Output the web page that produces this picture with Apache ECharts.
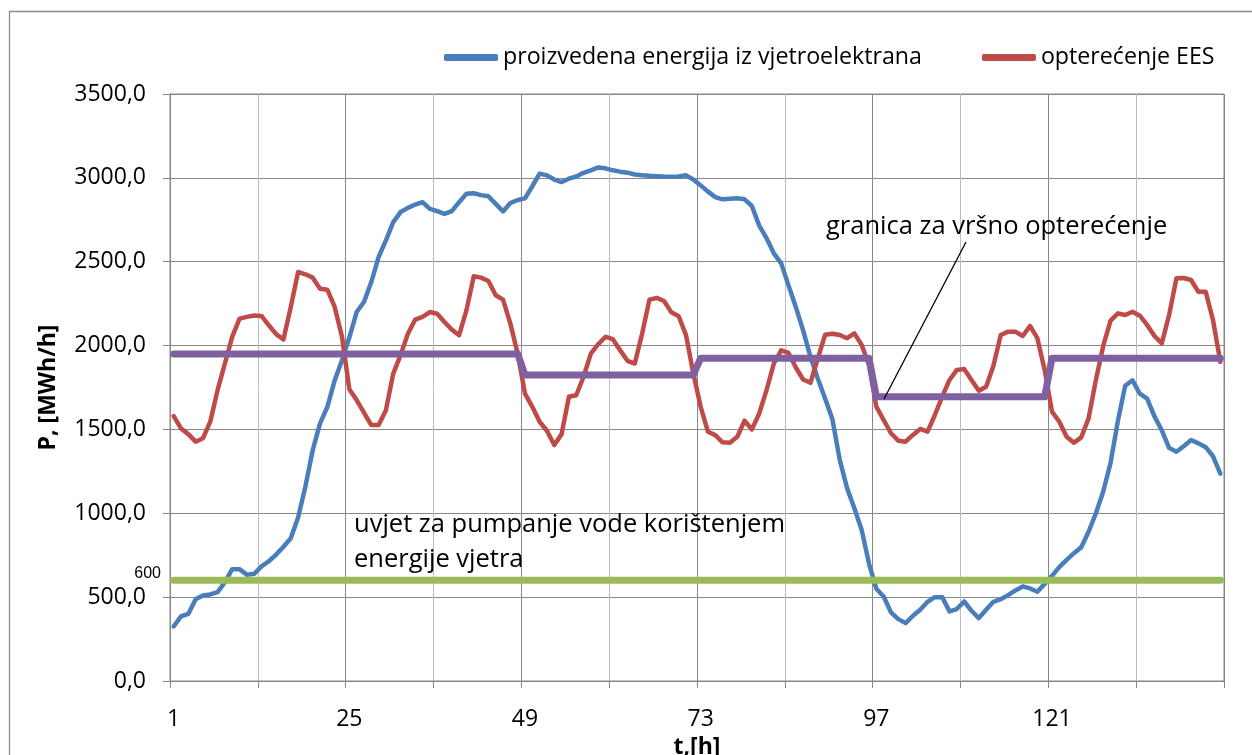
<!DOCTYPE html>
<html>
<head>
<meta charset="utf-8">
<script src="https://cdn.jsdelivr.net/npm/echarts@6/dist/echarts.min.js"></script>
<style>
  html, body { margin: 0; padding: 0; background: #fff; }
  #chart { width: 1252px; height: 755px; }
</style>
</head>
<body>
<div id="chart"></div>
<script>
// hours 1..144
const hours = Array.from({ length: 144 }, (_, i) => String(i + 1));

// proizvedena energija iz vjetroelektrana
const windEnergy = [
  325, 385, 400, 488, 510, 516, 530, 589, 667, 667, 633, 639,
  683, 714, 754, 800, 851, 975, 1160, 1377, 1536, 1635, 1792, 1913,
  2048, 2200, 2260, 2379, 2528, 2627, 2736, 2796, 2821, 2841, 2855, 2815,
  2802, 2785, 2802, 2855, 2905, 2908, 2897, 2890, 2845, 2800, 2850, 2868,
  2878, 2950, 3025, 3015, 2990, 2975, 2995, 3008, 3030, 3045, 3062, 3057,
  3045, 3037, 3031, 3020, 3015, 3012, 3010, 3008, 3007, 3008, 3015, 2990,
  2955, 2918, 2885, 2872, 2875, 2878, 2872, 2832, 2715, 2640, 2550, 2490,
  2359, 2230, 2091, 1933, 1804, 1685, 1560, 1320, 1150, 1030, 900, 700,
  550, 504, 409, 369, 345, 389, 425, 472, 500, 500, 415, 429,
  474, 419, 375, 425, 472, 488, 512, 540, 564, 552, 532, 579,
  627, 679, 722, 762, 798, 890, 1000, 1130, 1300, 1550, 1760, 1793,
  1713, 1684, 1578, 1495, 1390, 1367, 1400, 1437, 1417, 1394, 1340, 1236
];

// opterećenje EES
const systemLoad = [
  1579, 1506, 1472, 1427, 1447, 1546, 1734, 1893, 2052, 2161, 2171, 2179,
  2177, 2121, 2068, 2036, 2230, 2439, 2425, 2405, 2339, 2333, 2230, 2052,
  1740, 1675, 1600, 1526, 1526, 1615, 1833, 1943, 2071, 2155, 2171, 2200,
  2190, 2141, 2095, 2062, 2210, 2413, 2405, 2385, 2300, 2274, 2131, 1952,
  1714, 1635, 1546, 1492, 1407, 1472, 1695, 1704, 1814, 1952, 2008, 2052,
  2038, 1972, 1909, 1893, 2071, 2274, 2284, 2266, 2198, 2175, 2062, 1833,
  1635, 1486, 1466, 1423, 1421, 1456, 1552, 1500, 1595, 1734, 1893, 1972,
  1956, 1869, 1798, 1778, 1923, 2064, 2070, 2063, 2044, 2073, 2004, 1884,
  1636, 1556, 1477, 1433, 1427, 1467, 1503, 1487, 1586, 1696, 1795, 1855,
  1860, 1795, 1731, 1755, 1880, 2063, 2083, 2083, 2057, 2117, 2044, 1855,
  1606, 1546, 1457, 1421, 1453, 1566, 1795, 1998, 2149, 2192, 2182, 2202,
  2178, 2123, 2057, 2013, 2182, 2401, 2403, 2391, 2321, 2321, 2152, 1903
];

// granica za vršno opterećenje (breakpoints: hour, value)
const peakLimit = [
  ['1', 1950], ['48', 1950], ['49', 1825], ['72', 1825], ['73', 1925],
  ['96', 1925], ['97', 1695], ['120', 1695], ['121', 1925], ['144', 1925]
];

// uvjet za pumpanje vode
const pumpLimit = [['1', 600], ['144', 600]];

const FONT = 'Open Sans';
const gridColor = '#878787';
const noteFont = '25.5px "Open Sans"';

const chart = echarts.init(document.getElementById('chart'));

const option = {
  animation: false,
  backgroundColor: '#fff',
  textStyle: { fontFamily: FONT, color: '#000' },
  grid: {
    left: 170, top: 94, right: 28, bottom: 74,
    outerBoundsMode: 'none',
    show: true, borderColor: gridColor, borderWidth: 1
  },
  legend: {
    data: ['proizvedena energija iz vjetroelektrana', 'opterećenje EES'],
    left: 439,
    top: 41,
    icon: 'roundRect',
    itemWidth: 54,
    itemHeight: 7,
    itemGap: 60,
    textStyle: { fontFamily: FONT, fontSize: 23.2, color: '#000' }
  },
  xAxis: {
    type: 'category',
    data: hours,
    boundaryGap: true,
    name: 't,[h]',
    nameLocation: 'middle',
    nameGap: 53,
    nameTextStyle: { fontFamily: FONT, fontSize: 23, fontWeight: 'bold', color: '#000' },
    axisLine: { lineStyle: { color: gridColor, width: 1 } },
    axisTick: { show: true, interval: 11, length: 7, lineStyle: { color: gridColor } },
    axisLabel: {
      interval: 23, margin: 27,
      fontFamily: FONT, fontSize: 23, color: '#000'
    },
    splitLine: {
      show: true, interval: 11,
      lineStyle: { color: [gridColor, '#bdbdbd'], width: 1 }
    }
  },
  yAxis: {
    type: 'value',
    min: 0, max: 3500, interval: 500,
    name: 'P, [MWh/h]',
    nameLocation: 'middle',
    nameGap: 110,
    nameTextStyle: { fontFamily: FONT, fontSize: 23, fontWeight: 'bold', color: '#000' },
    axisLine: { show: true, lineStyle: { color: gridColor, width: 1 } },
    axisTick: { show: true, length: 7, lineStyle: { color: gridColor } },
    axisLabel: {
      margin: 24, fontFamily: FONT, fontSize: 23, color: '#000',
      formatter: v => v.toFixed(1).replace('.', ',')
    },
    splitLine: { lineStyle: { color: gridColor, width: 1 } }
  },
  series: [
    {
      name: 'proizvedena energija iz vjetroelektrana',
      type: 'line',
      data: windEnergy,
      symbol: 'none',
      lineStyle: { color: '#4a7ebb', width: 4.5, cap: 'round', join: 'round' },
      itemStyle: { color: '#4a7ebb' }
    },
    {
      name: 'opterećenje EES',
      type: 'line',
      data: systemLoad,
      symbol: 'none',
      lineStyle: { color: '#be4b48', width: 4.5, cap: 'round', join: 'round' },
      itemStyle: { color: '#be4b48' }
    },
    {
      name: 'granica za vršno opterećenje',
      type: 'line',
      data: peakLimit,
      symbol: 'none',
      lineStyle: { color: '#7f60a0', width: 7, cap: 'round', join: 'round' },
      itemStyle: { color: '#7f60a0' }
    },
    {
      name: 'uvjet za pumpanje',
      type: 'line',
      data: pumpLimit,
      symbol: 'none',
      lineStyle: { color: '#9bbb59', width: 7, cap: 'round' },
      itemStyle: { color: '#9bbb59' }
    }
  ],
  graphic: [
    // chart area border
    {
      type: 'rect', shape: { x: 9.5, y: 11.5, width: 1300, height: 800 },
      style: { fill: 'none', stroke: '#8a8a8a', lineWidth: 1.3 }, silent: true
    },
    // annotation callout
    {
      type: 'line', shape: { x1: 966, y1: 242, x2: 884, y2: 399 },
      style: { stroke: '#000', lineWidth: 1.3 }, z: 10
    },
    {
      type: 'text', x: 826, y: 227,
      style: { text: 'granica za vršno opterećenje', font: noteFont, fill: '#000', verticalAlign: 'middle' }, z: 10
    },
    {
      type: 'text', x: 354, y: 525,
      style: { text: 'uvjet za pumpanje vode korištenjem', font: noteFont, fill: '#000', verticalAlign: 'middle' }, z: 10
    },
    {
      type: 'text', x: 354, y: 560,
      style: { text: 'energije vjetra', font: noteFont, fill: '#000', verticalAlign: 'middle' }, z: 10
    },
    {
      type: 'text', x: 161, y: 574,
      style: { text: '600', font: '16px "Liberation Sans"', fill: '#000', align: 'right', verticalAlign: 'middle' }, z: 10
    }
  ]
};

chart.setOption(option);
</script>
</body>
</html>
